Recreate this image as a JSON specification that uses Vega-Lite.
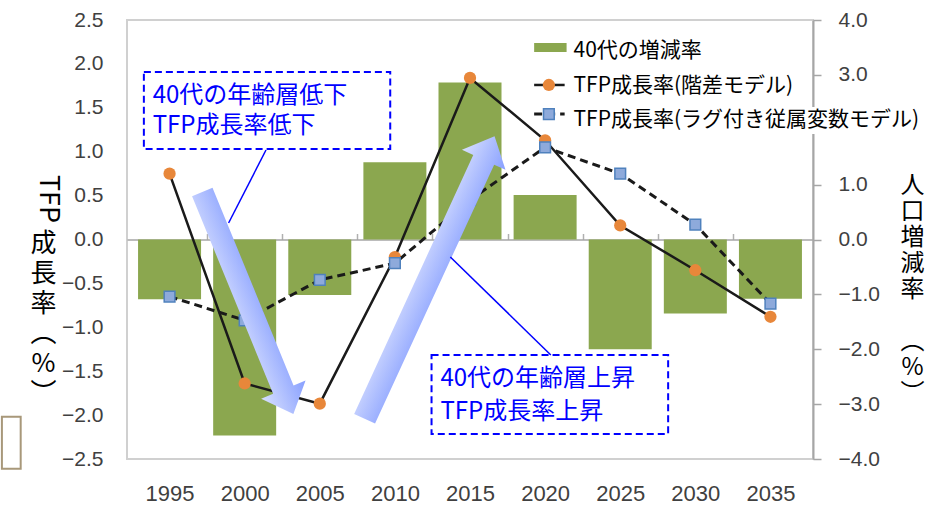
{
  "$schema": "https://vega.github.io/schema/vega-lite/v6.json",
  "width": 686,
  "height": 439,
  "autosize": {"type": "none"},
  "padding": {"left": 127, "top": 20, "right": 119, "bottom": 50},
  "background": "white",
  "config": {
    "view": {"stroke": "#d0d0d0", "strokeWidth": 2},
    "font": "Liberation Sans"
  },
  "datasets": {
    "main": [
      {"year": 1995, "pop40": -1.09, "tfp_diff": 0.75, "tfp_lag": -0.65},
      {"year": 2000, "pop40": -3.57, "tfp_diff": -1.64, "tfp_lag": -0.92},
      {"year": 2005, "pop40": -1.01, "tfp_diff": -1.87, "tfp_lag": -0.46},
      {"year": 2010, "pop40": 1.41, "tfp_diff": -0.2, "tfp_lag": -0.27},
      {"year": 2015, "pop40": 2.86, "tfp_diff": 1.84, "tfp_lag": 0.45},
      {"year": 2020, "pop40": 0.81, "tfp_diff": 1.13, "tfp_lag": 1.05},
      {"year": 2025, "pop40": -2.0, "tfp_diff": 0.16, "tfp_lag": 0.75},
      {"year": 2030, "pop40": -1.35, "tfp_diff": -0.35, "tfp_lag": 0.17},
      {"year": 2035, "pop40": -1.08, "tfp_diff": -0.88, "tfp_lag": -0.73}
    ]
  },
  "layer": [
    {
      "data": {"name": "main"},
      "mark": {"type": "bar", "size": 63, "color": "#8ba74f"},
      "encoding": {
        "x": {
          "field": "year", "type": "quantitative", "title": null,
          "scale": {"domain": [1992.5, 2037.5], "nice": false, "zero": false},
          "axis": {
            "orient": "top", "offset": -219.5,
            "values": [1997.5, 2002.5, 2007.5, 2012.5, 2017.5, 2022.5, 2027.5, 2032.5],
            "labels": false, "grid": false,
            "domain": true, "domainColor": "#a6a6a6", "domainWidth": 1.5,
            "ticks": true, "tickColor": "#b0b0b0", "tickSize": 6, "tickWidth": 1.5
          }
        },
        "y": {
          "field": "pop40", "type": "quantitative",
          "scale": {"domain": [-4, 4], "nice": false},
          "axis": {
            "orient": "right",
            "values": [-4, -3, -2, -1, 0, 1, 3, 4],
            "format": ".1f",
            "grid": false,
            "domain": true, "domainColor": "#a6a6a6", "domainWidth": 2,
            "ticks": true, "tickColor": "#a6a6a6", "tickSize": 8, "tickWidth": 1.5,
            "labelPadding": 17, "labelFontSize": 21, "labelColor": "#404040",
            "title": ["人", "口", "増", "減", "率", "⠀", "︵", "%", "︶"],
            "titleAngle": 0, "titleAlign": "center", "titleBaseline": "middle",
            "titleX": 99, "titleY": 165, "titleLineHeight": 26,
            "titleFont": "Noto Sans CJK JP", "titleFontSize": 24,
            "titleFontWeight": "normal", "titleColor": "black"
          }
        },
        "y2": {"datum": 0}
      }
    },
    {
      "layer": [
        {
          "data": {"name": "main"},
          "mark": {"type": "line", "color": "#1a1a1a", "strokeWidth": 2.5},
          "encoding": {
            "x": {
              "field": "year", "type": "quantitative", "title": null,
              "scale": {"domain": [1992.5, 2037.5], "nice": false, "zero": false},
              "axis": {
                "orient": "bottom",
                "values": [1995, 2000, 2005, 2010, 2015, 2020, 2025, 2030, 2035],
                "format": "d", "grid": false, "domain": false,
                "ticks": false, "tickSize": 0,
                "labelPadding": 24, "labelFontSize": 22, "labelColor": "#404040"
              }
            },
            "y": {
              "field": "tfp_diff", "type": "quantitative",
              "scale": {"domain": [-2.5, 2.5], "nice": false},
              "axis": {
                "orient": "left",
                "values": [-2.5, -2, -1.5, -1, -0.5, 0, 0.5, 1, 1.5, 2, 2.5],
                "format": ".1f", "grid": false, "domain": false,
                "ticks": false, "tickSize": 0,
                "labelPadding": 24, "labelFontSize": 21, "labelColor": "#404040",
                "title": ["成", "長", "率", "︵", "%", "︶"],
                "titleAngle": 0, "titleAlign": "center", "titleBaseline": "middle",
                "titleX": -84, "titleY": 223, "titleLineHeight": 30,
                "titleFont": "Noto Sans CJK JP", "titleFontSize": 26,
                "titleFontWeight": "normal", "titleColor": "black"
              }
            }
          }
        },
        {
          "data": {"name": "main"},
          "mark": {"type": "point", "shape": "circle", "size": 150, "filled": true, "opacity": 1, "color": "#e8873a"},
          "encoding": {
            "x": {"field": "year", "type": "quantitative"},
            "y": {"field": "tfp_diff", "type": "quantitative"}
          }
        },
        {
          "data": {"name": "main"},
          "mark": {"type": "line", "color": "#1a1a1a", "strokeWidth": 3, "strokeDash": [8, 5]},
          "encoding": {
            "x": {"field": "year", "type": "quantitative"},
            "y": {"field": "tfp_lag", "type": "quantitative"}
          }
        },
        {
          "data": {"name": "main"},
          "mark": {"type": "point", "shape": "square", "size": 115, "filled": true, "opacity": 1, "fill": "#8eaadb", "stroke": "#4f81bd", "strokeWidth": 1.5},
          "encoding": {
            "x": {"field": "year", "type": "quantitative"},
            "y": {"field": "tfp_lag", "type": "quantitative"}
          }
        },
        {
          "data": {"values": [{"x": 2000.21, "y": -0.723}]},
          "mark": {
            "type": "point", "filled": true, "opacity": 1, "strokeWidth": 0,
            "shape": "M-0.092,-1L0.092,-1L0.092,0.78L0.2,0.78L0,1L-0.2,0.78L-0.092,0.78Z",
            "size": 57600, "angle": 337.7,
            "fill": {"gradient": "linear", "x1": 0, "y1": 0, "x2": 1, "y2": 0,
              "stops": [{"offset": 0, "color": "#d6defe"}, {"offset": 1, "color": "#879fff"}]}
          },
          "encoding": {
            "x": {"field": "x", "type": "quantitative"},
            "y": {"field": "y", "type": "quantitative"}
          }
        },
        {
          "data": {"values": [{"x": 2012.31, "y": -0.433}]},
          "mark": {
            "type": "point", "filled": true, "opacity": 1, "strokeWidth": 0,
            "shape": "M-0.074,-1L0.074,-1L0.074,0.833L0.154,0.833L0,1L-0.154,0.833L-0.074,0.833Z",
            "size": 96721, "angle": 204.7,
            "fill": {"gradient": "linear", "x1": 0, "y1": 0, "x2": 1, "y2": 0,
              "stops": [{"offset": 0, "color": "#879fff"}, {"offset": 1, "color": "#d6defe"}]}
          },
          "encoding": {
            "x": {"field": "x", "type": "quantitative"},
            "y": {"field": "y", "type": "quantitative"}
          }
        },
        {
          "data": {"values": [
            {"x": 2001.42, "y": 1.019, "x2": 1998.93, "y2": 0.188},
            {"x": 2020.38, "y": -1.315, "x2": 2013.69, "y2": -0.199}
          ]},
          "mark": {"type": "rule", "color": "#0000ff", "strokeWidth": 1.5},
          "encoding": {
            "x": {"field": "x", "type": "quantitative"},
            "y": {"field": "y", "type": "quantitative"},
            "x2": {"field": "x2"},
            "y2": {"field": "y2"}
          }
        },
        {
          "data": {"values": [
            {"x": 1993.29, "x2": 2009.69, "y": 1.908, "y2": 1.031},
            {"x": 2012.44, "x2": 2028.19, "y": -1.315, "y2": -2.215}
          ]},
          "mark": {"type": "rect", "fill": "white", "fillOpacity": 0, "stroke": "#0000ff", "strokeWidth": 2, "strokeDash": [7, 4]},
          "encoding": {
            "x": {"field": "x", "type": "quantitative"},
            "y": {"field": "y", "type": "quantitative"},
            "x2": {"field": "x2"},
            "y2": {"field": "y2"}
          }
        },
        {
          "data": {"values": [
            {"x": 1993.88, "y": 1.634, "text": "40代の年齢層低下"},
            {"x": 1993.88, "y": 1.293, "text": "TFP成長率低下"},
            {"x": 2013.03, "y": -1.589, "text": "40代の年齢層上昇"},
            {"x": 2013.03, "y": -1.965, "text": "TFP成長率上昇"}
          ]},
          "mark": {"type": "text", "align": "left", "baseline": "middle", "font": "Noto Sans CJK JP", "fontSize": 24, "color": "#0000ff"},
          "encoding": {
            "x": {"field": "x", "type": "quantitative"},
            "y": {"field": "y", "type": "quantitative"},
            "text": {"field": "text"}
          }
        },
        {
          "data": {"values": [{"x": 2021.69, "x2": 2045.18, "y": 1.509, "y2": 1.202}]},
          "mark": {"type": "rect", "fill": "white", "strokeWidth": 0},
          "encoding": {
            "x": {"field": "x", "type": "quantitative"},
            "y": {"field": "y", "type": "quantitative"},
            "x2": {"field": "x2"},
            "y2": {"field": "y2"}
          }
        },
        {
          "data": {"values": [{"x": 2019.27, "x2": 2021.43, "y": 2.238, "y2": 2.135}]},
          "mark": {"type": "rect", "fill": "#8ba74f"},
          "encoding": {
            "x": {"field": "x", "type": "quantitative"},
            "y": {"field": "y", "type": "quantitative"},
            "x2": {"field": "x2"},
            "y2": {"field": "y2"}
          }
        },
        {
          "data": {"values": [{"x": 2019.27, "y": 1.76}, {"x": 2021.3, "y": 1.76}]},
          "mark": {"type": "line", "color": "#1a1a1a", "strokeWidth": 2.5},
          "encoding": {
            "x": {"field": "x", "type": "quantitative"},
            "y": {"field": "y", "type": "quantitative"}
          }
        },
        {
          "data": {"values": [{"x": 2020.25, "y": 1.76}]},
          "mark": {"type": "point", "shape": "circle", "size": 150, "filled": true, "opacity": 1, "color": "#e8873a"},
          "encoding": {
            "x": {"field": "x", "type": "quantitative"},
            "y": {"field": "y", "type": "quantitative"}
          }
        },
        {
          "data": {"values": [{"x": 2019.27, "y": 1.429}, {"x": 2021.3, "y": 1.429}]},
          "mark": {"type": "line", "color": "#1a1a1a", "strokeWidth": 3, "strokeDash": [8, 5]},
          "encoding": {
            "x": {"field": "x", "type": "quantitative"},
            "y": {"field": "y", "type": "quantitative"}
          }
        },
        {
          "data": {"values": [{"x": 2020.25, "y": 1.429}]},
          "mark": {"type": "point", "shape": "square", "size": 115, "filled": true, "opacity": 1, "fill": "#8eaadb", "stroke": "#4f81bd", "strokeWidth": 1.5},
          "encoding": {
            "x": {"field": "x", "type": "quantitative"},
            "y": {"field": "y", "type": "quantitative"}
          }
        },
        {
          "data": {"values": [
            {"x": 2021.89, "y": 2.147, "text": "40代の増減率"},
            {"x": 2021.89, "y": 1.748, "text": "TFP成長率(階差モデル)"},
            {"x": 2021.89, "y": 1.361, "text": "TFP成長率(ラグ付き従属変数モデル)"}
          ]},
          "mark": {"type": "text", "align": "left", "baseline": "middle", "font": "Noto Sans CJK JP", "fontSize": 21, "color": "black"},
          "encoding": {
            "x": {"field": "x", "type": "quantitative"},
            "y": {"field": "y", "type": "quantitative"},
            "text": {"field": "text"}
          }
        },
        {
          "data": {"values": [{"x": 1986.92, "y": 0.461, "text": "TFP"}]},
          "mark": {"type": "text", "align": "center", "baseline": "middle", "angle": 90, "font": "Noto Sans CJK JP", "fontSize": 27, "color": "black"},
          "encoding": {
            "x": {"field": "x", "type": "quantitative"},
            "y": {"field": "y", "type": "quantitative"},
            "text": {"field": "text"}
          }
        },
        {
          "data": {"values": [{"x": 1983.84, "x2": 1985.09, "y": -2.02, "y2": -2.61}]},
          "mark": {"type": "rect", "fill": "white", "fillOpacity": 0, "stroke": "#a8987a", "strokeWidth": 2},
          "encoding": {
            "x": {"field": "x", "type": "quantitative"},
            "y": {"field": "y", "type": "quantitative"},
            "x2": {"field": "x2"},
            "y2": {"field": "y2"}
          }
        }
      ]
    }
  ],
  "resolve": {"scale": {"y": "independent"}, "axis": {"x": "independent"}}
}
